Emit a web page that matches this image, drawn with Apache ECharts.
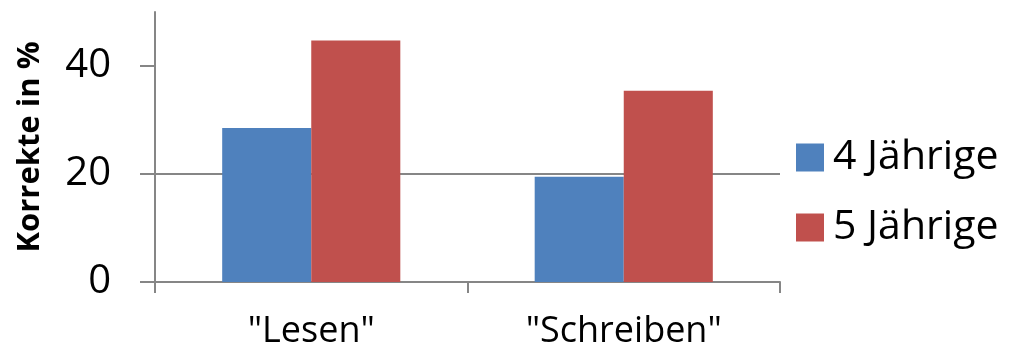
<!DOCTYPE html>
<html>
<head>
<meta charset="utf-8">
<script src="https://cdn.jsdelivr.net/npm/echarts@6/dist/echarts.min.js"></script>
<style>html,body{margin:0;padding:0;background:#fff}#c{width:1028px;height:347px}</style>
</head>
<body>
<div id="c"></div>
<script>
const categories = ['"Lesen"', '"Schreiben"'];
const seriesNames = ['4 Jährige', '5 Jährige'];
const values4 = [28.5, 19.5];
const values5 = [44.7, 35.4];
const yTicks = [0, 20, 40];
const colors = ['#4F81BD', '#C0504D'];
const FONT = '"Open Sans", sans-serif';

const chart = echarts.init(document.getElementById('c'), null, {renderer: 'canvas'});
chart.setOption({
  animation: false,
  backgroundColor: '#fff',
  grid: {left: 155, right: 248, top: 12, bottom: 65, containLabel: false, outerBoundsMode: 'none'},
  legend: {
    orient: 'vertical', left: 791, top: 132,
    itemWidth: 28, itemHeight: 28, itemGap: 29,
    icon: 'rect',
    textStyle: {fontFamily: FONT, fontSize: 41, color: '#000', padding: [0,0,0,4]},
    data: seriesNames
  },
  xAxis: {
    type: 'category', data: categories,
    axisLine: {lineStyle: {color: '#868686', width: 2}},
    axisTick: {show: true, length: 11, lineStyle: {color: '#868686', width: 2}},
    axisLabel: {fontFamily: FONT, fontSize: 36, color: '#000', margin: 32}
  },
  yAxis: {
    type: 'value', min: 0, max: 50, interval: 20,
    name: 'Korrekte in %', nameLocation: 'middle', nameGap: 109,
    nameTextStyle: {fontFamily: FONT, fontSize: 31, fontWeight: 'bold', color: '#000'},
    axisLine: {show: true, lineStyle: {color: '#868686', width: 2}},
    axisTick: {show: true, inside: false, length: 15, customValues: yTicks,
      lineStyle: {color: '#868686', width: 2}},
    splitLine: {show: true, showMaxLine: false, lineStyle: {color: '#868686', width: 2}},
    axisLabel: {fontFamily: FONT, fontSize: 40, color: '#000', margin: 44, customValues: yTicks}
  },
  series: [
    {name: seriesNames[0], type: 'bar', data: values4, barGap: '0%', barCategoryGap: '43%',
     itemStyle: {color: colors[0]}},
    {name: seriesNames[1], type: 'bar', data: values5, barGap: '0%', barCategoryGap: '43%',
     itemStyle: {color: colors[1]}}
  ]
});
</script>
</body>
</html>
